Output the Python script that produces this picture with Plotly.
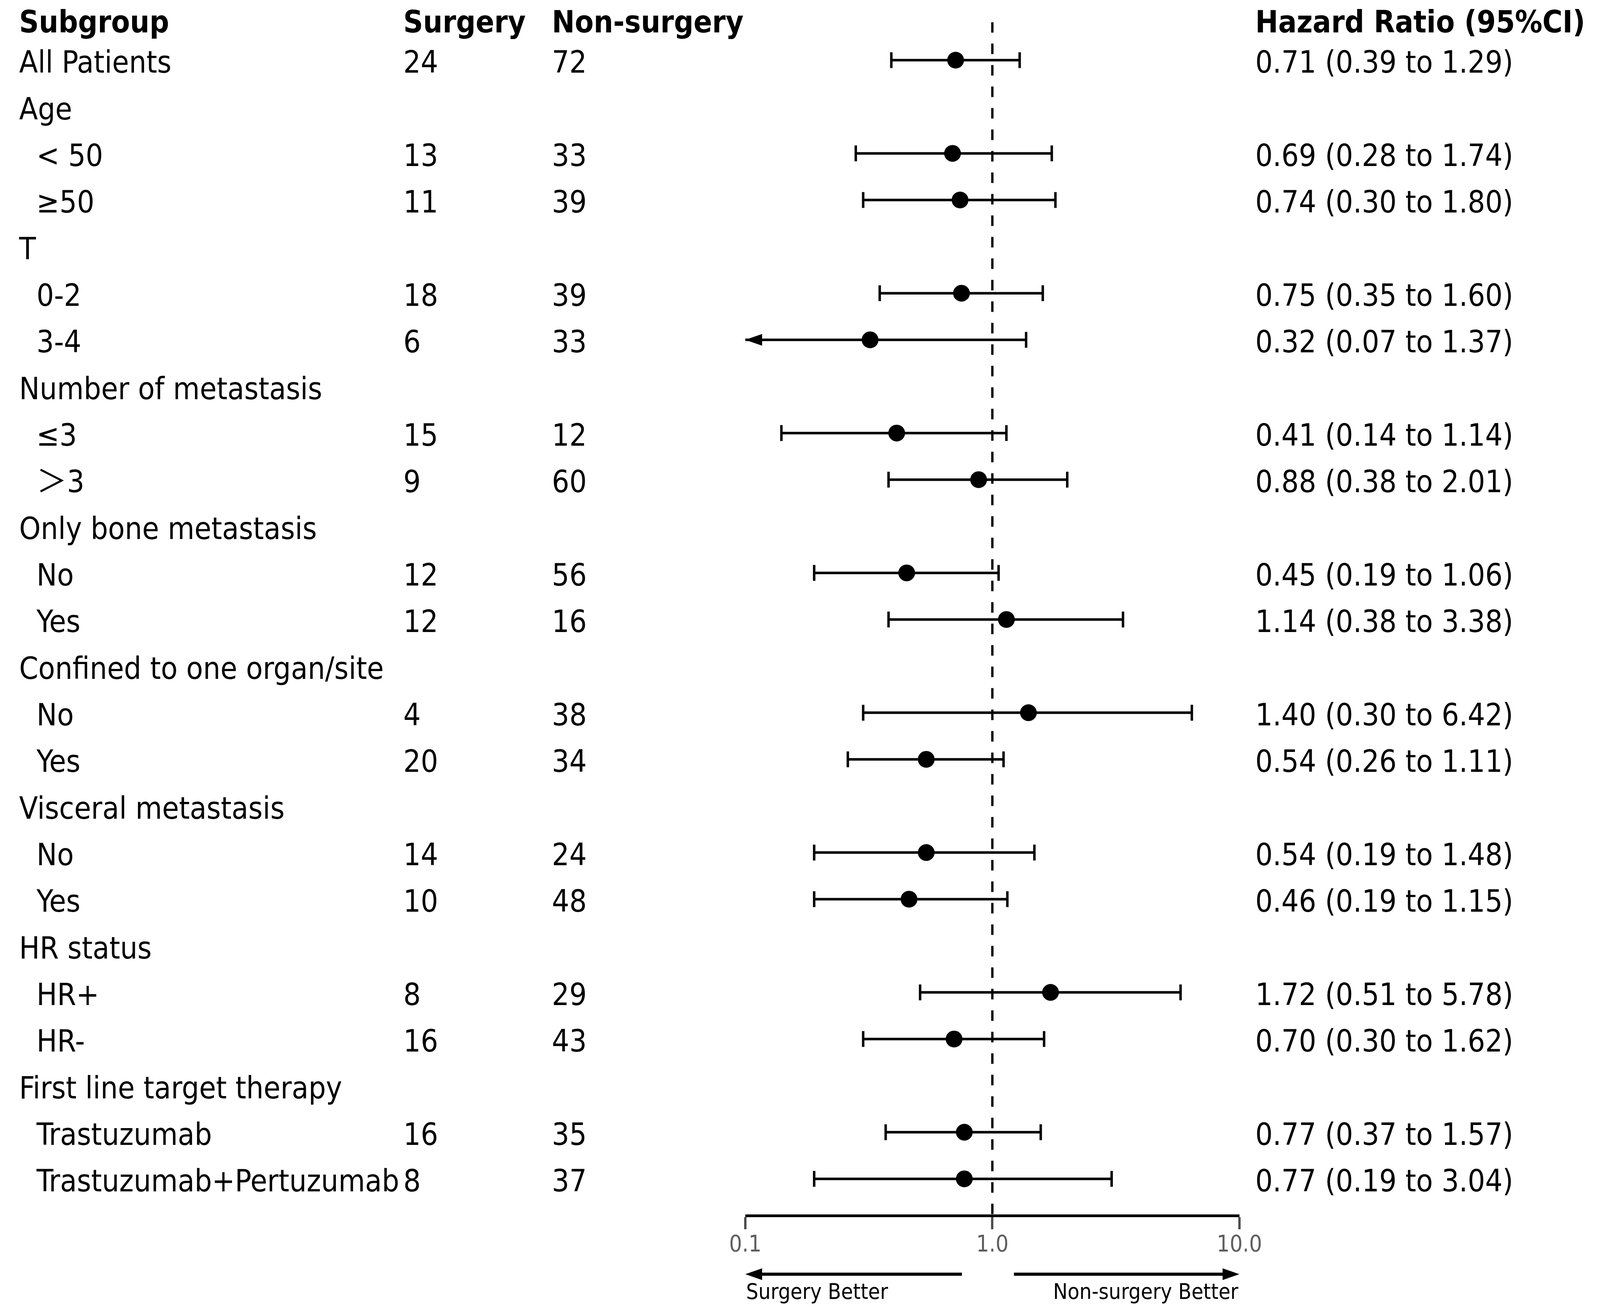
import plotly.graph_objects as go

# ---------------- data ----------------
subgroups = ["All Patients", "Age", "< 50", "≥50", "T", "0-2", "3-4",
             "Number of metastasis", "≤3", "＞3", "Only bone metastasis", "No", "Yes",
             "Confined to one organ/site", "No", "Yes", "Visceral metastasis", "No", "Yes",
             "HR status", "HR+", "HR-", "First line target therapy", "Trastuzumab",
             "Trastuzumab+Pertuzumab"]
indent = [0, 0, 1, 1, 0, 1, 1, 0, 1, 1, 0, 1, 1, 0, 1, 1, 0, 1, 1, 0, 1, 1, 0, 1, 1]
surgery_n = [24, None, 13, 11, None, 18, 6, None, 15, 9, None, 12, 12, None, 4, 20,
             None, 14, 10, None, 8, 16, None, 16, 8]
nonsurgery_n = [72, None, 33, 39, None, 39, 33, None, 12, 60, None, 56, 16, None, 38, 34,
                None, 24, 48, None, 29, 43, None, 35, 37]
hr = [0.71, None, 0.69, 0.74, None, 0.75, 0.32, None, 0.41, 0.88, None, 0.45, 1.14,
      None, 1.40, 0.54, None, 0.54, 0.46, None, 1.72, 0.70, None, 0.77, 0.77]
hr_lo = [0.39, None, 0.28, 0.30, None, 0.35, 0.07, None, 0.14, 0.38, None, 0.19, 0.38,
         None, 0.30, 0.26, None, 0.19, 0.19, None, 0.51, 0.30, None, 0.37, 0.19]
hr_hi = [1.29, None, 1.74, 1.80, None, 1.60, 1.37, None, 1.14, 2.01, None, 1.06, 3.38,
         None, 6.42, 1.11, None, 1.48, 1.15, None, 5.78, 1.62, None, 1.57, 3.04]
headers = ["Subgroup", "Surgery", "Non-surgery", "Hazard Ratio (95%CI)"]
tick_vals = [0.1, 1, 10]
tick_text = ["0.1", "1.0", "10.0"]
x_min, x_max = 0.1, 10
left_label = "Surgery Better"
right_label = "Non-surgery Better"

# ---------------- geometry (figure pixels) ----------------
W, H = 4080, 3338
SX = 4096 / 4528            # horizontal fit of the visible window
OFF = 8                     # page margin


def fx(v):
    return v * SX - OFF


def fy(v):
    return v - OFF


FONT = "DejaVu Sans Condensed, DejaVu Sans, Noto Sans CJK SC, sans-serif"
FS = 78
ROWH = 119.33
ROW0 = fy(34.67)
AXIS_LW = 7
AXIS_PX = fy(3112)
X_LEFT, X_RIGHT = fx(2115), fx(3548)
col_x = [0, fx(1123), fx(1554), fx(3594)]
TXT_DY = (4 + 0.115 * FS) / ROWH
HDR_DY = 16 / ROWH

rows = list(range(1, len(subgroups) + 1))
dom_bot_px = AXIS_PX - AXIS_LW / 2
y_top = -ROW0 / ROWH
y_bot = (dom_bot_px - ROW0) / ROWH

fig = go.Figure()

# ---- CI lines ----
lx, ly, cap_x, cap_y, arrow_rows = [], [], [], [], []
for k, h, lo, hi in zip(rows, hr, hr_lo, hr_hi):
    if h is None:
        continue
    lx += [max(lo, x_min), hi, None]
    ly += [k, k, None]
    cap_x.append(hi); cap_y.append(k)
    if lo >= x_min:
        cap_x.append(lo); cap_y.append(k)
    else:
        arrow_rows.append(k)

fig.add_trace(go.Scatter(x=lx, y=ly, mode="lines", line=dict(color="black", width=6.5),
                         xaxis="x", yaxis="y", hoverinfo="skip", showlegend=False))
fig.add_trace(go.Scatter(x=cap_x, y=cap_y, mode="markers", xaxis="x", yaxis="y",
                         marker=dict(symbol="line-ns", size=29,
                                     line=dict(color="black", width=6.3)),
                         hoverinfo="skip", showlegend=False))
pts = [(k, h) for k, h in zip(rows, hr) if h is not None]
fig.add_trace(go.Scatter(x=[p[1] for p in pts], y=[p[0] for p in pts], mode="markers",
                         xaxis="x", yaxis="y",
                         marker=dict(symbol="circle", size=43, color="black", line=dict(width=0)),
                         showlegend=False))

# ---- text columns ----
label_text = [("\u00a0\u00a0" if ind else "") + s for s, ind in zip(subgroups, indent)]
surg_text = ["" if v is None else str(v) for v in surgery_n]
non_text = ["" if v is None else str(v) for v in nonsurgery_n]
hr_text = ["" if h is None else f"{h:.2f} ({lo:.2f} to {hi:.2f})"
           for h, lo, hi in zip(hr, hr_lo, hr_hi)]

for cx, txt in zip(col_x, [label_text, surg_text, non_text, hr_text]):
    fig.add_trace(go.Scatter(x=[cx] * len(rows), y=[r + TXT_DY for r in rows], text=txt,
                             mode="text", textposition="middle right", xaxis="x2", yaxis="y",
                             textfont=dict(family=FONT, size=FS, color="black"),
                             cliponaxis=False, hoverinfo="skip", showlegend=False))
fig.add_trace(go.Scatter(x=col_x, y=[0 + TXT_DY + HDR_DY] * 4, text=headers, mode="text",
                         textposition="middle right", xaxis="x2", yaxis="y",
                         textfont=dict(family=FONT, size=FS, color="black", weight="bold"),
                         cliponaxis=False, hoverinfo="skip", showlegend=False))

# ---- shapes: reference line, arrows ----
shapes = [dict(type="line", xref="x", yref="y", x0=1, x1=1, y0=y_bot,
               y1=(fy(57) - ROW0) / ROWH,
               line=dict(color="black", width=6, dash="27px,28px"), layer="below")]
HEAD_L, HEAD_H = 43, 15
for k in arrow_rows:
    shapes.append(dict(type="path", xref="x", yref="y", xsizemode="pixel", ysizemode="pixel",
                       xanchor=x_min, yanchor=k,
                       path=f"M0,0 L{HEAD_L},{HEAD_H} L{HEAD_L},-{HEAD_H} Z",
                       fillcolor="black", line=dict(width=0)))

ARROW_Y = 1 - fy(3262) / H
left_len = fx(2728) - X_LEFT
right_len = X_RIGHT - fx(2910)
shapes.append(dict(type="path", xref="x", yref="paper", xsizemode="pixel", ysizemode="pixel",
                   xanchor=x_min, yanchor=ARROW_Y,
                   path=(f"M0,0 L{HEAD_L},{HEAD_H} L{HEAD_L},4 L{left_len:.1f},4 "
                         f"L{left_len:.1f},-4 L{HEAD_L},-4 L{HEAD_L},-{HEAD_H} Z"),
                   fillcolor="black", line=dict(width=0)))
shapes.append(dict(type="path", xref="x", yref="paper", xsizemode="pixel", ysizemode="pixel",
                   xanchor=x_max, yanchor=ARROW_Y,
                   path=(f"M0,0 L-{HEAD_L},{HEAD_H} L-{HEAD_L},4 L-{right_len:.1f},4 "
                         f"L-{right_len:.1f},-4 L-{HEAD_L},-4 L-{HEAD_L},-{HEAD_H} Z"),
                   fillcolor="black", line=dict(width=0)))

LBL_Y = 1 - fy(3306) / H
annotations = [
    dict(text=left_label, xref="paper", yref="paper", x=X_LEFT / W, y=LBL_Y,
         xanchor="left", yanchor="middle", showarrow=False,
         font=dict(family=FONT, size=55, color="black")),
    dict(text=right_label, xref="paper", yref="paper", x=X_RIGHT / W, y=LBL_Y,
         xanchor="right", yanchor="middle", showarrow=False,
         font=dict(family=FONT, size=55, color="black")),
]

fig.update_layout(
    width=W, height=H, margin=dict(l=0, r=0, t=0, b=0, pad=0),
    paper_bgcolor="white", plot_bgcolor="rgba(0,0,0,0)",
    showlegend=False, shapes=shapes, annotations=annotations,
    xaxis=dict(type="log", domain=[X_LEFT / W, X_RIGHT / W], range=[-1, 1], anchor="y",
               showline=True, linecolor="black", linewidth=AXIS_LW, ticks="outside",
               ticklen=31, tickwidth=6.3, tickcolor="#4D4D4D", tickvals=tick_vals,
               ticktext=tick_text, tickfont=dict(family=FONT, size=58, color="#5E5E5E"),
               ticklabelstandoff=-12,
               showgrid=False, zeroline=False, fixedrange=True),
    xaxis2=dict(domain=[0, 1], range=[0, W], autorange=False, anchor="y", visible=False,
                showgrid=False, zeroline=False),
    yaxis=dict(domain=[1 - dom_bot_px / H, 1], range=[y_bot, y_top], visible=False,
               showgrid=False, zeroline=False, anchor="x"),
    font=dict(family=FONT),
)

fig.write_html("out.html")
